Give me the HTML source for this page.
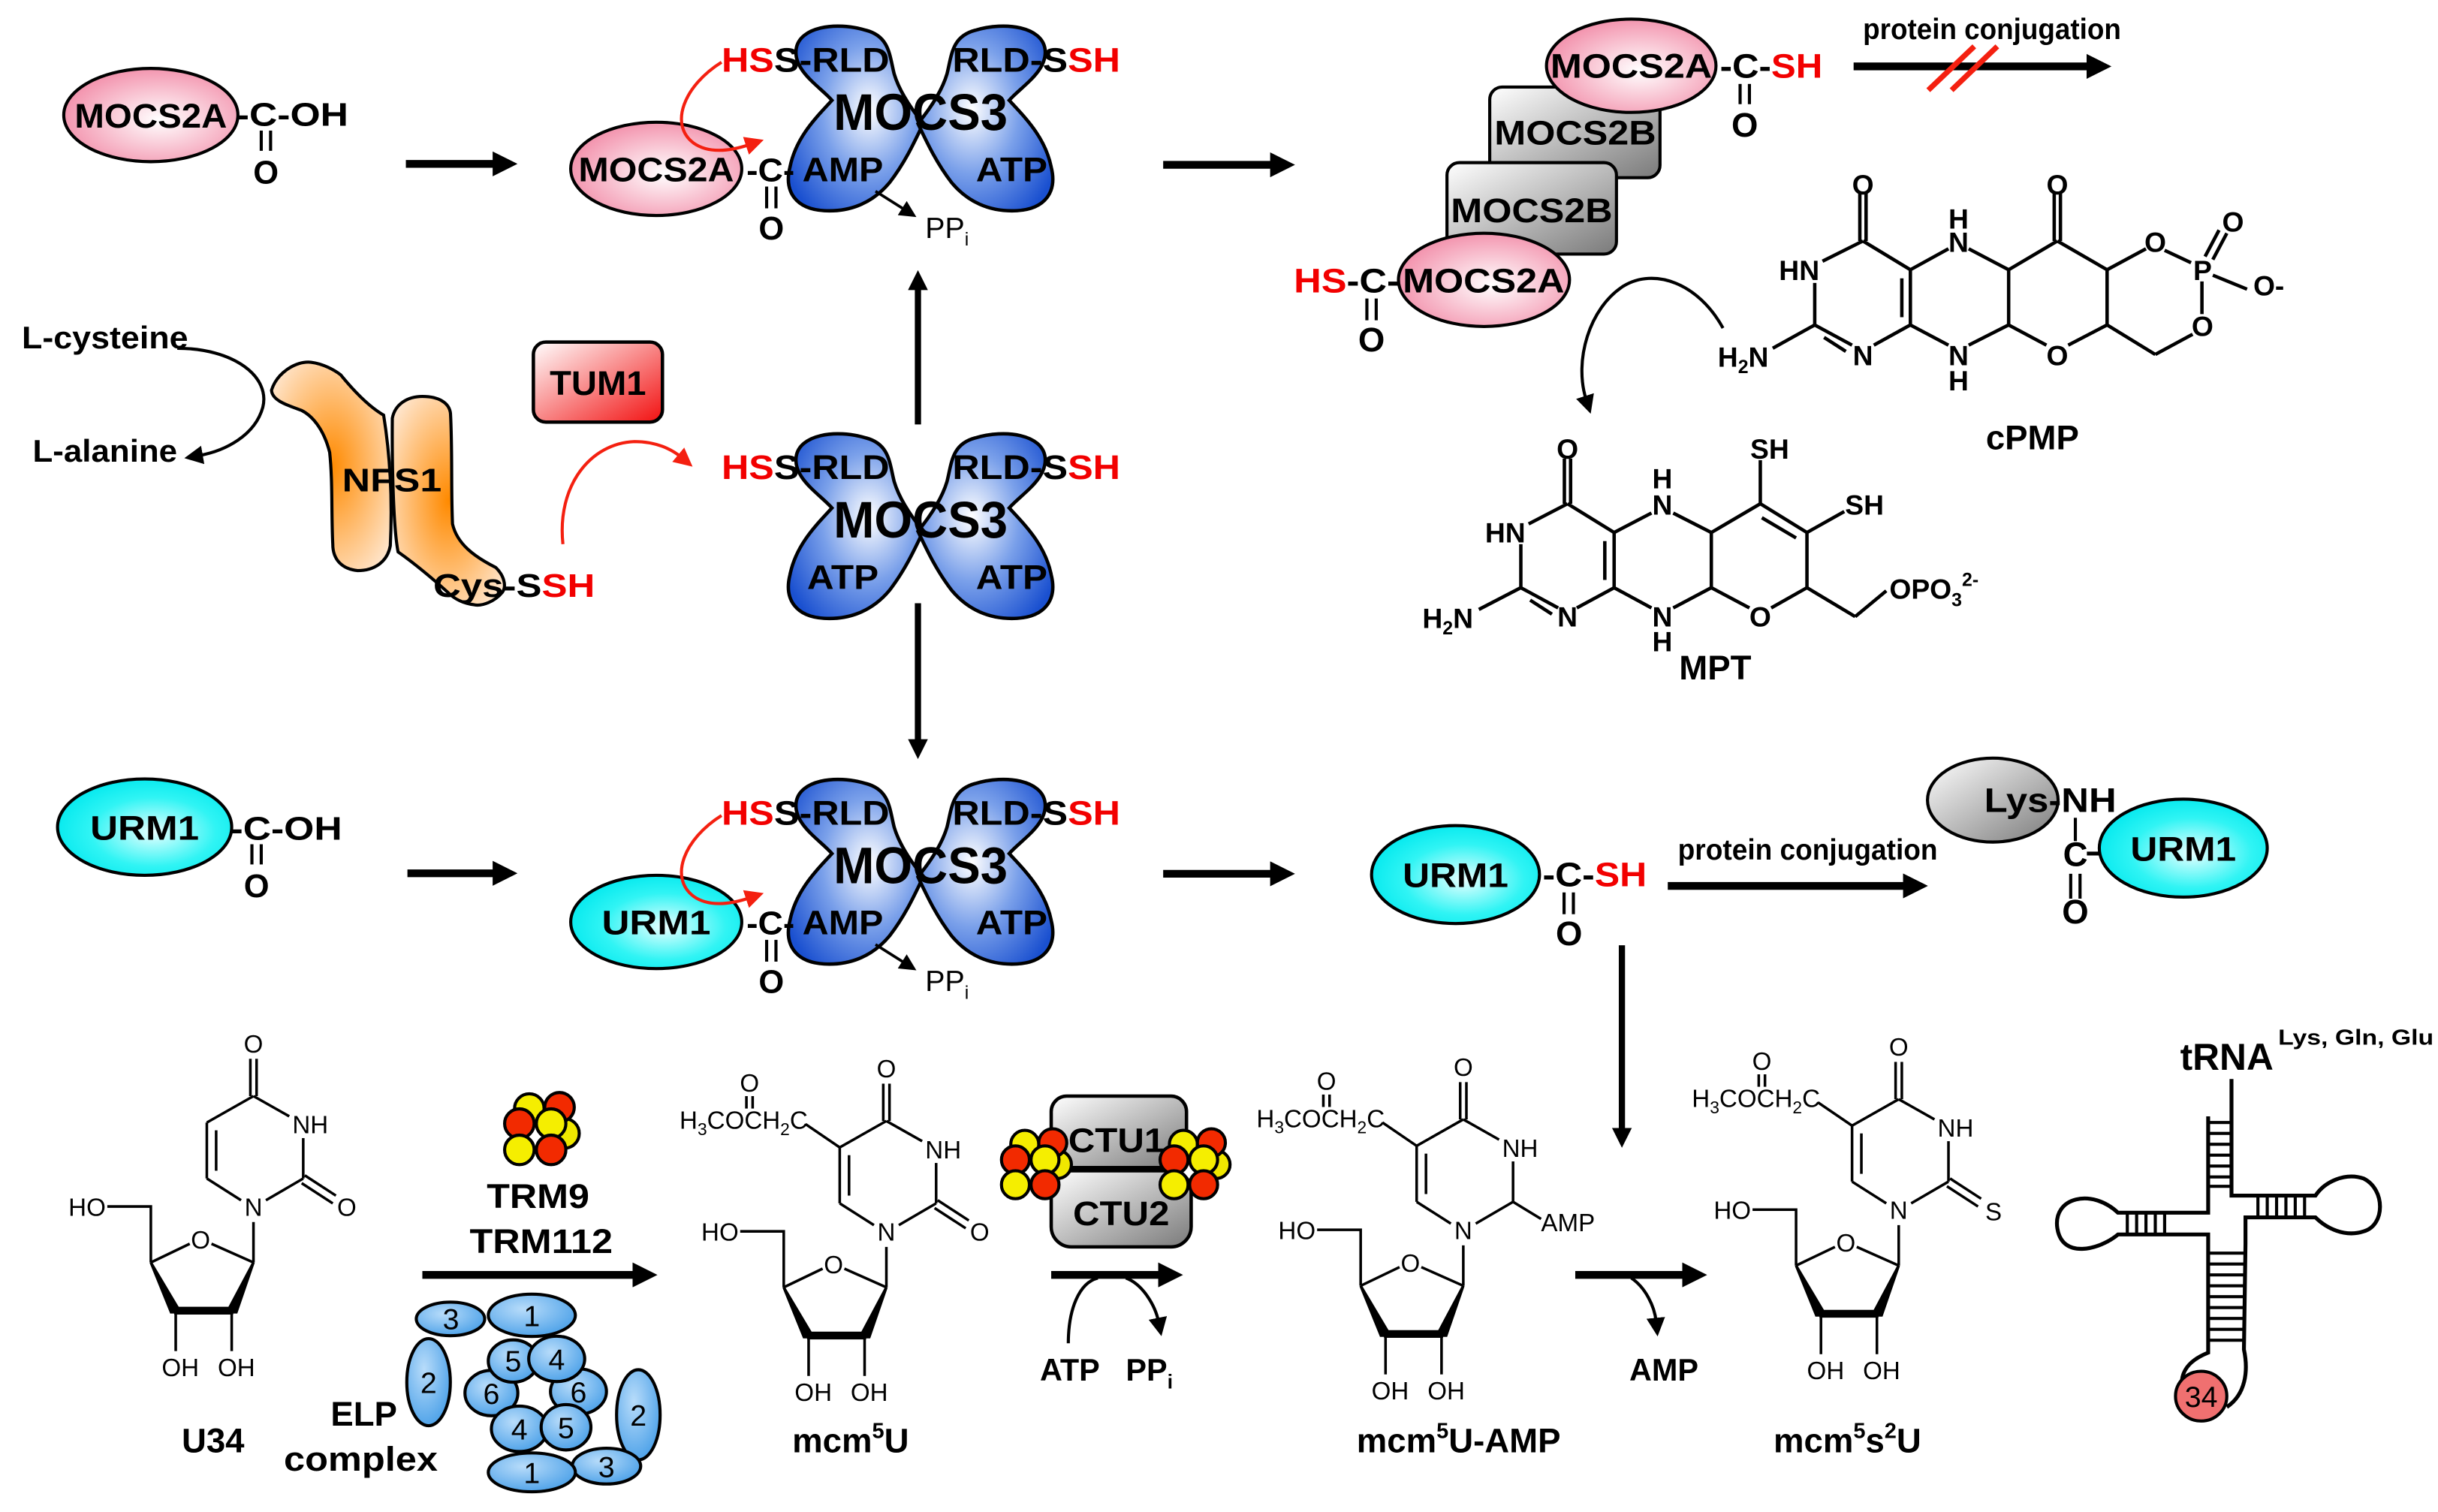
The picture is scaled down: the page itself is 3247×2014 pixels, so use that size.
<!DOCTYPE html>
<html><head><meta charset="utf-8"><style>
html,body{margin:0;padding:0;background:#fff;}
svg{display:block;}
text{font-family:"Liberation Sans",Arial,sans-serif;}
.b{font-weight:bold;}
</style></head><body>
<svg xmlns="http://www.w3.org/2000/svg" width="3247" height="2014" viewBox="0 0 1567.8 972.5" preserveAspectRatio="none">
<defs>
<radialGradient id="gBlue" cx="0.6" cy="0.45" r="0.7"><stop offset="0" stop-color="#ffffff"/><stop offset="0.5" stop-color="#7aa0ea"/><stop offset="1" stop-color="#1a50d0"/></radialGradient>
<radialGradient id="gPink" cx="0.55" cy="0.55" r="0.6"><stop offset="0" stop-color="#ffffff"/><stop offset="1" stop-color="#f28ca8"/></radialGradient>
<radialGradient id="gCyan" cx="0.55" cy="0.55" r="0.6"><stop offset="0" stop-color="#e8ffff"/><stop offset="0.6" stop-color="#30f4f4"/><stop offset="1" stop-color="#00e8ee"/></radialGradient>
<linearGradient id="gGrey" x1="0" y1="0" x2="1" y2="1"><stop offset="0" stop-color="#ffffff"/><stop offset="1" stop-color="#7a7a7a"/></linearGradient>
<linearGradient id="gRed" x1="0" y1="0" x2="1" y2="1"><stop offset="0" stop-color="#ffffff"/><stop offset="1" stop-color="#f21010"/></linearGradient>
<radialGradient id="gOr" cx="0.5" cy="0.5" r="0.7"><stop offset="0" stop-color="#ff8a00"/><stop offset="1" stop-color="#fff0e4"/></radialGradient>
<radialGradient id="gElp" cx="0.4" cy="0.35" r="0.7"><stop offset="0" stop-color="#b8dcfa"/><stop offset="1" stop-color="#4aa0e8"/></radialGradient>
<marker id="ah" viewBox="0 0 10 10" refX="2" refY="5" markerWidth="3.2" markerHeight="3.2" orient="auto"><path d="M0,0 L10,5 L0,10 z" fill="#000"/></marker>
<marker id="ahs" viewBox="0 0 10 10" refX="2" refY="5" markerWidth="6" markerHeight="6" orient="auto"><path d="M0,0 L10,5 L0,10 z" fill="#000"/></marker>
<marker id="ahr" viewBox="0 0 10 10" refX="2" refY="5" markerWidth="6" markerHeight="6" orient="auto"><path d="M0,0 L10,5 L0,10 z" fill="#f42010"/></marker>
<g id="mocs">
<path d="M1.7,0 C-8,-12 -14,-22 -17,-32 C-20,-44 -20,-56 -35,-60 C-55,-66 -78,-62 -80,-48 C-82,-34 -65,-24 -57,-15 C-66,-5 -80,8 -84,28 C-88,44 -80,55 -62,56 C-44,57 -30,50 -20,38 C-10,25 -4,12 1.7,0 Z" fill="url(#gBlue)" stroke="#000" stroke-width="2.2"/>
<path transform="scale(-1,1)" d="M1.7,0 C-8,-12 -14,-22 -17,-32 C-20,-44 -20,-56 -35,-60 C-55,-66 -78,-62 -80,-48 C-82,-34 -65,-24 -57,-15 C-66,-5 -80,8 -84,28 C-88,44 -80,55 -62,56 C-44,57 -30,50 -20,38 C-10,25 -4,12 1.7,0 Z" fill="url(#gBlue)" stroke="#000" stroke-width="2.2"/>
</g>
<g id="nuc" stroke="#000" stroke-width="1.7" fill="none">
<line x1="163" y1="705" x2="186" y2="718"/>
<line x1="195" y1="732" x2="195" y2="758"/>
<line x1="195" y1="758" x2="171" y2="772"/>
<line x1="133" y1="758" x2="155" y2="772"/>
<line x1="133" y1="722" x2="133" y2="758"/>
<line x1="139" y1="727" x2="139" y2="753"/>
<line x1="163" y1="705" x2="133" y2="722"/>
<line x1="161" y1="705" x2="161" y2="681"/>
<line x1="165" y1="705" x2="165" y2="681"/>
<line x1="163" y1="786" x2="163" y2="812"/>
<line x1="163" y1="812" x2="136" y2="800"/>
<line x1="122" y1="800" x2="97" y2="812"/>
<polyline points="69,776 97,776 97,812"/>
<polygon points="97,812 110,844 116,844" fill="#000"/>
<polygon points="163,812 146,844 152,844" fill="#000"/>
<line x1="112" y1="843" x2="150" y2="843" stroke-width="5"/>
<line x1="113" y1="845" x2="113" y2="869"/>
<line x1="149" y1="845" x2="149" y2="869"/>
</g>
</defs>

<!-- ===== TOP ROW ===== -->
<ellipse cx="97" cy="74" rx="56" ry="30" fill="url(#gPink)" stroke="#000" stroke-width="2"/>
<text x="97" y="82" class="b" font-size="22" text-anchor="middle" textLength="98" lengthAdjust="spacingAndGlyphs">MOCS2A</text>
<text x="152" y="81" class="b" font-size="21" textLength="72" lengthAdjust="spacingAndGlyphs">-C-OH</text>
<line x1="168" y1="84" x2="168" y2="97" stroke="#000" stroke-width="2"/><line x1="174" y1="84" x2="174" y2="97" stroke="#000" stroke-width="2"/>
<text x="171" y="118" class="b" font-size="21" text-anchor="middle">O</text>
<line x1="261" y1="105.4" x2="320" y2="105.4" stroke="#000" stroke-width="5" marker-end="url(#ah)"/>

<!-- top MOCS3 -->
<g transform="translate(592,79.5)"><use href="#mocs"/></g>
<ellipse cx="422" cy="108.6" rx="55" ry="30" fill="url(#gPink)" stroke="#000" stroke-width="2"/>
<text x="422" y="116.5" class="b" font-size="22" text-anchor="middle" textLength="100" lengthAdjust="spacingAndGlyphs">MOCS2A</text>
<text x="480" y="116.5" class="b" font-size="21" textLength="31" lengthAdjust="spacingAndGlyphs">-C-</text>
<text x="516" y="116.5" class="b" font-size="22" textLength="52" lengthAdjust="spacingAndGlyphs">AMP</text>
<text x="627.6" y="116.5" class="b" font-size="22" textLength="46" lengthAdjust="spacingAndGlyphs">ATP</text>
<text x="592" y="83.5" class="b" font-size="33" text-anchor="middle" textLength="112" lengthAdjust="spacingAndGlyphs">MOCS3</text>
<text x="464" y="46" class="b" font-size="22" textLength="108" lengthAdjust="spacingAndGlyphs"><tspan fill="#f20000">HS</tspan>S-RLD</text>
<text x="612.4" y="46" class="b" font-size="22" textLength="108" lengthAdjust="spacingAndGlyphs">RLD-S<tspan fill="#f20000">SH</tspan></text>
<line x1="493" y1="120" x2="493" y2="134" stroke="#000" stroke-width="2"/><line x1="499" y1="120" x2="499" y2="134" stroke="#000" stroke-width="2"/>
<text x="496" y="154" class="b" font-size="21" text-anchor="middle">O</text>
<path d="M464,40 C440,55 430,80 446,92 C456,99 470,97 482,93" fill="none" stroke="#f42010" stroke-width="2" marker-end="url(#ahr)"/>
<line x1="563" y1="123" x2="582" y2="135" stroke="#000" stroke-width="1.8" marker-end="url(#ahs)"/>
<text x="595" y="153" font-size="19">PP<tspan font-size="12" dy="5">i</tspan></text>
<line x1="748" y1="106" x2="820" y2="106" stroke="#000" stroke-width="5" marker-end="url(#ah)"/>

<!-- top right -->
<rect x="958" y="56" width="109.5" height="58.3" rx="8" fill="url(#gGrey)" stroke="#000" stroke-width="2"/>
<text x="1013" y="93" class="b" font-size="22" text-anchor="middle" textLength="104" lengthAdjust="spacingAndGlyphs">MOCS2B</text>
<rect x="930.5" y="104.6" width="109" height="58.8" rx="8" fill="url(#gGrey)" stroke="#000" stroke-width="2"/>
<text x="985" y="143" class="b" font-size="22" text-anchor="middle" textLength="104" lengthAdjust="spacingAndGlyphs">MOCS2B</text>
<ellipse cx="1049" cy="42.3" rx="54.5" ry="30" fill="url(#gPink)" stroke="#000" stroke-width="2"/>
<text x="1049" y="50" class="b" font-size="22" text-anchor="middle" textLength="104" lengthAdjust="spacingAndGlyphs">MOCS2A</text>
<text x="1106" y="50" class="b" font-size="22" textLength="66" lengthAdjust="spacingAndGlyphs">-C-<tspan fill="#f20000">SH</tspan></text>
<line x1="1119" y1="54" x2="1119" y2="67" stroke="#000" stroke-width="2"/><line x1="1125" y1="54" x2="1125" y2="67" stroke="#000" stroke-width="2"/>
<text x="1122" y="88" class="b" font-size="22" text-anchor="middle">O</text>
<ellipse cx="954.3" cy="180" rx="55" ry="30" fill="url(#gPink)" stroke="#000" stroke-width="2"/>
<text x="954" y="188" class="b" font-size="22" text-anchor="middle" textLength="104" lengthAdjust="spacingAndGlyphs">MOCS2A</text>
<text x="832" y="188" class="b" font-size="22" textLength="68" lengthAdjust="spacingAndGlyphs"><tspan fill="#f20000">HS</tspan>-C-</text>
<line x1="879" y1="192" x2="879" y2="206" stroke="#000" stroke-width="2"/><line x1="885" y1="192" x2="885" y2="206" stroke="#000" stroke-width="2"/>
<text x="882" y="226" class="b" font-size="22" text-anchor="middle">O</text>
<text x="1198" y="25" class="b" font-size="19" textLength="166" lengthAdjust="spacingAndGlyphs">protein conjugation</text>
<line x1="1192" y1="42.7" x2="1345" y2="42.7" stroke="#000" stroke-width="5" marker-end="url(#ah)"/>
<line x1="1240" y1="58" x2="1269.6" y2="29.8" stroke="#f42010" stroke-width="3.5"/>
<line x1="1255" y1="58" x2="1284.4" y2="29.8" stroke="#f42010" stroke-width="3.5"/>

<!-- cPMP -->
<g stroke="#000" stroke-width="2.2" fill="none">
<line x1="1196" y1="124" x2="1196" y2="155"/><line x1="1200" y1="124" x2="1200" y2="155"/>
<line x1="1198" y1="155" x2="1172" y2="168"/>
<line x1="1167" y1="182" x2="1167" y2="209"/>
<line x1="1167" y1="209" x2="1140" y2="224"/>
<line x1="1167" y1="209" x2="1191" y2="222"/><line x1="1173" y1="217" x2="1187" y2="226"/>
<line x1="1205" y1="222" x2="1228.5" y2="209"/>
<line x1="1228.5" y1="173.5" x2="1228.5" y2="209"/><line x1="1223" y1="179" x2="1223" y2="204"/>
<line x1="1198" y1="155" x2="1228.5" y2="173.5"/>
<line x1="1228.5" y1="173.5" x2="1253" y2="160"/>
<line x1="1266" y1="160" x2="1291.7" y2="173.5"/>
<line x1="1228.5" y1="209" x2="1253" y2="222"/>
<line x1="1266" y1="222" x2="1291.7" y2="209"/>
<line x1="1291.7" y1="173.5" x2="1291.7" y2="209"/>
<line x1="1291.7" y1="173.5" x2="1323" y2="155"/>
<line x1="1321" y1="124" x2="1321" y2="155"/><line x1="1325" y1="124" x2="1325" y2="155"/>
<line x1="1323" y1="155" x2="1355" y2="173.5"/>
<line x1="1291.7" y1="209" x2="1316" y2="222"/>
<line x1="1330" y1="222" x2="1355" y2="209"/>
<line x1="1355" y1="173.5" x2="1355" y2="209"/>
<line x1="1355" y1="173.5" x2="1380" y2="160"/>
<line x1="1392" y1="161" x2="1409" y2="169"/>
<line x1="1416" y1="181" x2="1416" y2="202"/>
<line x1="1410" y1="215" x2="1386" y2="228"/>
<line x1="1386" y1="228" x2="1355" y2="209"/>
<line x1="1418" y1="165" x2="1427" y2="148"/><line x1="1423" y1="167" x2="1432" y2="150"/>
<line x1="1423" y1="177" x2="1445" y2="186"/>
</g>
<g class="b" font-size="18" text-anchor="middle">
<text x="1198" y="125" class="b">O</text>
<text x="1157" y="180" class="b">HN</text>
<text x="1121" y="236" class="b">H<tspan font-size="12" dy="4">2</tspan><tspan dy="-4">N</tspan></text>
<text x="1198" y="235" class="b">N</text>
<text x="1259.5" y="147" class="b">H</text>
<text x="1259.5" y="162" class="b">N</text>
<text x="1259.5" y="235" class="b">N</text>
<text x="1259.5" y="251" class="b">H</text>
<text x="1323" y="125" class="b">O</text>
<text x="1323" y="235" class="b">O</text>
<text x="1386" y="162" class="b">O</text>
<text x="1416.4" y="180" class="b">P</text>
<text x="1416.4" y="216" class="b">O</text>
<text x="1436" y="149" class="b">O</text>
<text x="1459" y="190" class="b">O-</text>
</g>
<text x="1307" y="289" class="b" font-size="22" text-anchor="middle">cPMP</text>
<path d="M1108,211 C1092,182 1064,172 1044,184 C1022,198 1012,232 1020,257" fill="none" stroke="#000" stroke-width="2" marker-end="url(#ahs)"/>

<!-- MPT -->
<g stroke="#000" stroke-width="2.2" fill="none">
<line x1="1006" y1="295" x2="1006" y2="324"/><line x1="1010" y1="295" x2="1010" y2="324"/>
<line x1="1008" y1="324" x2="983" y2="337"/>
<line x1="978" y1="350" x2="978" y2="378"/>
<line x1="978" y1="378" x2="951" y2="392"/>
<line x1="978" y1="378" x2="1002" y2="391"/><line x1="984" y1="386" x2="998" y2="395"/>
<line x1="1014" y1="391" x2="1038" y2="378"/>
<line x1="1038" y1="342.5" x2="1038" y2="378"/><line x1="1032" y1="348" x2="1032" y2="373"/>
<line x1="1008" y1="324" x2="1038" y2="342.5"/>
<line x1="1038" y1="342.5" x2="1062" y2="330"/>
<line x1="1076" y1="330" x2="1100.5" y2="342.5"/>
<line x1="1038" y1="378" x2="1062" y2="391"/>
<line x1="1076" y1="391" x2="1100.5" y2="378"/>
<line x1="1100.5" y1="342.5" x2="1100.5" y2="378"/>
<line x1="1100.5" y1="342.5" x2="1132" y2="324"/>
<line x1="1132" y1="324" x2="1132" y2="296"/>
<line x1="1132" y1="324" x2="1162" y2="342.5"/><line x1="1133" y1="333" x2="1155" y2="346"/>
<line x1="1162" y1="342.5" x2="1186" y2="329"/>
<line x1="1162" y1="342.5" x2="1162" y2="378"/>
<line x1="1100.5" y1="378" x2="1125" y2="391"/>
<line x1="1139" y1="391" x2="1162" y2="378"/>
<line x1="1162" y1="378" x2="1193" y2="396.6"/>
<line x1="1193" y1="396.6" x2="1213" y2="380"/>
</g>
<g font-size="18" text-anchor="middle">
<text x="1008" y="295" class="b">O</text>
<text x="968" y="349" class="b">HN</text>
<text x="931" y="404" class="b">H<tspan font-size="12" dy="4">2</tspan><tspan dy="-4">N</tspan></text>
<text x="1008" y="403" class="b">N</text>
<text x="1069" y="314" class="b">H</text>
<text x="1069" y="331" class="b">N</text>
<text x="1069" y="403" class="b">N</text>
<text x="1069" y="419" class="b">H</text>
<text x="1138" y="295" class="b">SH</text>
<text x="1199" y="331" class="b">SH</text>
<text x="1132" y="403" class="b">O</text>
</g>
<text x="1215" y="385" class="b" font-size="18">OPO<tspan font-size="12" dy="5">3</tspan><tspan font-size="12" dy="-13">2-</tspan></text>
<text x="1103" y="437" class="b" font-size="22" text-anchor="middle">MPT</text>

<!-- ===== MIDDLE ===== -->
<text x="14" y="224" class="b" font-size="20" textLength="107" lengthAdjust="spacingAndGlyphs">L-cysteine</text>
<text x="21" y="297" class="b" font-size="20" textLength="93" lengthAdjust="spacingAndGlyphs">L-alanine</text>
<path d="M114,224 C150,224 174,242 169,262 C164,280 145,290 128,293" fill="none" stroke="#000" stroke-width="2" marker-end="url(#ahs)"/>
<path d="M174.6,251 C178,240 190,232 200,233 C208,234 215,238 219,241 C228,252 238,262 246.7,267 C252,300 252,330 251,351 C249,362 240,367 230,367 C220,366 214,360 214,350 C213,330 214,310 212,291 C208,275 200,267 194,264 C186,261 175,258 174.6,251 Z" fill="url(#gOr)" stroke="#000" stroke-width="2"/>
<path d="M252.3,269 C254,260 262,255 271.6,255 C282,255 289,259 289.7,266 C291,290 290,315 291,337 C294,350 305,358 318.8,365 C324,370 326,377 323,381 C318,387 310,390 305,389 C297,388 292,385 288,381 C278,372 266,362 256,355 C253,340 252,300 252.3,269 Z" fill="url(#gOr)" stroke="#000" stroke-width="2"/>
<text x="252" y="316" class="b" font-size="21" text-anchor="middle" textLength="64" lengthAdjust="spacingAndGlyphs">NFS1</text>
<text x="278.6" y="384" class="b" font-size="21" textLength="104" lengthAdjust="spacingAndGlyphs">Cys-S<tspan fill="#f20000">SH</tspan></text>
<rect x="343" y="220" width="83" height="51.5" rx="8" fill="url(#gRed)" stroke="#000" stroke-width="2.2"/>
<text x="384.5" y="254" class="b" font-size="22" text-anchor="middle" textLength="62" lengthAdjust="spacingAndGlyphs">TUM1</text>
<path d="M362,350 C358,312 380,285 408,284 C422,284 432,289 438,294" fill="none" stroke="#f42010" stroke-width="2" marker-end="url(#ahr)"/>

<g transform="translate(592,341.7)"><use href="#mocs"/></g>
<text x="592" y="345.7" class="b" font-size="33" text-anchor="middle" textLength="112" lengthAdjust="spacingAndGlyphs">MOCS3</text>
<text x="464" y="308" class="b" font-size="22" textLength="108" lengthAdjust="spacingAndGlyphs"><tspan fill="#f20000">HS</tspan>S-RLD</text>
<text x="612.4" y="308" class="b" font-size="22" textLength="108" lengthAdjust="spacingAndGlyphs">RLD-S<tspan fill="#f20000">SH</tspan></text>
<text x="519" y="378.7" class="b" font-size="22" textLength="46" lengthAdjust="spacingAndGlyphs">ATP</text>
<text x="627.6" y="378.7" class="b" font-size="22" textLength="46" lengthAdjust="spacingAndGlyphs">ATP</text>
<line x1="590.3" y1="273" x2="590.3" y2="184" stroke="#000" stroke-width="4" marker-end="url(#ah)"/>
<line x1="590.3" y1="388" x2="590.3" y2="478" stroke="#000" stroke-width="4" marker-end="url(#ah)"/>

<!-- ===== URM1 ROW ===== -->
<ellipse cx="93" cy="532" rx="56" ry="31" fill="url(#gCyan)" stroke="#000" stroke-width="2"/>
<text x="93" y="540" class="b" font-size="22" text-anchor="middle" textLength="70" lengthAdjust="spacingAndGlyphs">URM1</text>
<text x="148" y="540" class="b" font-size="21" textLength="72" lengthAdjust="spacingAndGlyphs">-C-OH</text>
<line x1="162" y1="543" x2="162" y2="556" stroke="#000" stroke-width="2"/><line x1="168" y1="543" x2="168" y2="556" stroke="#000" stroke-width="2"/>
<text x="165" y="577" class="b" font-size="21" text-anchor="middle">O</text>
<line x1="262" y1="561.7" x2="320" y2="561.7" stroke="#000" stroke-width="5" marker-end="url(#ah)"/>

<g transform="translate(592,564)"><use href="#mocs"/></g>
<ellipse cx="422" cy="593" rx="55" ry="30" fill="url(#gCyan)" stroke="#000" stroke-width="2"/>
<text x="422" y="601" class="b" font-size="22" text-anchor="middle" textLength="70" lengthAdjust="spacingAndGlyphs">URM1</text>
<text x="480" y="601" class="b" font-size="21" textLength="31" lengthAdjust="spacingAndGlyphs">-C-</text>
<text x="516" y="601" class="b" font-size="22" textLength="52" lengthAdjust="spacingAndGlyphs">AMP</text>
<text x="627.6" y="601" class="b" font-size="22" textLength="46" lengthAdjust="spacingAndGlyphs">ATP</text>
<text x="592" y="568" class="b" font-size="33" text-anchor="middle" textLength="112" lengthAdjust="spacingAndGlyphs">MOCS3</text>
<text x="464" y="530.5" class="b" font-size="22" textLength="108" lengthAdjust="spacingAndGlyphs"><tspan fill="#f20000">HS</tspan>S-RLD</text>
<text x="612.4" y="530.5" class="b" font-size="22" textLength="108" lengthAdjust="spacingAndGlyphs">RLD-S<tspan fill="#f20000">SH</tspan></text>
<line x1="493" y1="604.5" x2="493" y2="618.5" stroke="#000" stroke-width="2"/><line x1="499" y1="604.5" x2="499" y2="618.5" stroke="#000" stroke-width="2"/>
<text x="496" y="638.5" class="b" font-size="21" text-anchor="middle">O</text>
<path d="M464,524.5 C440,539.5 430,564.5 446,576.5 C456,583.5 470,581.5 482,577.5" fill="none" stroke="#f42010" stroke-width="2" marker-end="url(#ahr)"/>
<line x1="563" y1="607.5" x2="582" y2="619.5" stroke="#000" stroke-width="1.8" marker-end="url(#ahs)"/>
<text x="595" y="637.5" font-size="19">PP<tspan font-size="12" dy="5">i</tspan></text>
<line x1="748" y1="562" x2="820" y2="562" stroke="#000" stroke-width="5" marker-end="url(#ah)"/>

<ellipse cx="936" cy="562.5" rx="54" ry="31.5" fill="url(#gCyan)" stroke="#000" stroke-width="2"/>
<text x="936" y="570.5" class="b" font-size="22" text-anchor="middle" textLength="68" lengthAdjust="spacingAndGlyphs">URM1</text>
<text x="992" y="570" class="b" font-size="22" textLength="67" lengthAdjust="spacingAndGlyphs">-C-<tspan fill="#f20000">SH</tspan></text>
<line x1="1005.8" y1="574" x2="1005.8" y2="588" stroke="#000" stroke-width="2"/><line x1="1011.8" y1="574" x2="1011.8" y2="588" stroke="#000" stroke-width="2"/>
<text x="1009" y="608" class="b" font-size="22" text-anchor="middle">O</text>
<text x="1079" y="553" class="b" font-size="19" textLength="167" lengthAdjust="spacingAndGlyphs">protein conjugation</text>
<line x1="1072.5" y1="569.8" x2="1227" y2="569.8" stroke="#000" stroke-width="5" marker-end="url(#ah)"/>
<ellipse cx="1281.5" cy="514.6" rx="42" ry="27" fill="url(#gGrey)" stroke="#000" stroke-width="2"/>
<ellipse cx="1404" cy="545.5" rx="54" ry="31.5" fill="url(#gCyan)" stroke="#000" stroke-width="2"/>
<text x="1404" y="553.5" class="b" font-size="22" text-anchor="middle" textLength="68" lengthAdjust="spacingAndGlyphs">URM1</text>
<text x="1276" y="522.3" class="b" font-size="22" textLength="85" lengthAdjust="spacingAndGlyphs">Lys-NH</text>
<line x1="1334.6" y1="526" x2="1334.6" y2="541" stroke="#000" stroke-width="2"/>
<text x="1334.6" y="557" class="b" font-size="22" text-anchor="middle">C</text>
<line x1="1342" y1="549" x2="1350" y2="549" stroke="#000" stroke-width="2.5"/>
<line x1="1331.6" y1="562" x2="1331.6" y2="578" stroke="#000" stroke-width="2"/><line x1="1337.6" y1="562" x2="1337.6" y2="578" stroke="#000" stroke-width="2"/>
<text x="1334.6" y="594" class="b" font-size="22" text-anchor="middle">O</text>
<line x1="1043" y1="608" x2="1043" y2="728" stroke="#000" stroke-width="4" marker-end="url(#ah)"/>

<!-- ===== BOTTOM ===== -->
<!-- U34 -->
<use href="#nuc"/>
<line x1="196" y1="756" x2="216" y2="769" stroke="#000" stroke-width="1.7"/><line x1="194" y1="761" x2="214" y2="774" stroke="#000" stroke-width="1.7"/>
<g font-size="16">
<text x="163" y="677" text-anchor="middle">O</text><text x="188" y="729">NH</text><text x="163" y="782" text-anchor="middle">N</text>
<text x="223" y="782" text-anchor="middle">O</text><text x="129" y="803" text-anchor="middle">O</text>
<text x="68" y="782" text-anchor="end">HO</text><text x="104" y="885">OH</text><text x="140" y="885">OH</text>
</g>
<text x="137" y="934" class="b" font-size="22" text-anchor="middle">U34</text>

<!-- mcm5U -->
<g transform="translate(407,16)">
<use href="#nuc"/>
<line x1="196" y1="756" x2="216" y2="769" stroke="#000" stroke-width="1.7"/><line x1="194" y1="761" x2="214" y2="774" stroke="#000" stroke-width="1.7"/>
<line x1="133" y1="722" x2="111" y2="707" stroke="#000" stroke-width="1.7"/>
<line x1="73" y1="689" x2="73" y2="697" stroke="#000" stroke-width="1.7"/><line x1="77" y1="689" x2="77" y2="697" stroke="#000" stroke-width="1.7"/>
<g font-size="16">
<text x="163" y="677" text-anchor="middle">O</text><text x="188" y="729">NH</text><text x="163" y="782" text-anchor="middle">N</text>
<text x="223" y="782" text-anchor="middle">O</text><text x="129" y="803" text-anchor="middle">O</text>
<text x="68" y="782" text-anchor="end">HO</text><text x="104" y="885">OH</text><text x="140" y="885">OH</text>
<text x="75" y="686" text-anchor="middle">O</text>
<text x="30" y="710">H<tspan font-size="11" dy="4">3</tspan><tspan dy="-4">COCH</tspan><tspan font-size="11" dy="4">2</tspan><tspan dy="-4">C</tspan></text>
</g>
</g>
<text x="547" y="934" class="b" font-size="22" text-anchor="middle">mcm<tspan font-size="14" dy="-9">5</tspan><tspan dy="9">U</tspan></text>

<!-- mcm5U-AMP -->
<g transform="translate(778,15)">
<use href="#nuc"/>
<line x1="195" y1="758" x2="213" y2="769" stroke="#000" stroke-width="1.7"/>
<line x1="133" y1="722" x2="111" y2="707" stroke="#000" stroke-width="1.7"/>
<line x1="73" y1="689" x2="73" y2="697" stroke="#000" stroke-width="1.7"/><line x1="77" y1="689" x2="77" y2="697" stroke="#000" stroke-width="1.7"/>
<g font-size="16">
<text x="163" y="677" text-anchor="middle">O</text><text x="188" y="729">NH</text><text x="163" y="782" text-anchor="middle">N</text>
<text x="213" y="777">AMP</text><text x="129" y="803" text-anchor="middle">O</text>
<text x="68" y="782" text-anchor="end">HO</text><text x="104" y="885">OH</text><text x="140" y="885">OH</text>
<text x="75" y="686" text-anchor="middle">O</text>
<text x="30" y="710">H<tspan font-size="11" dy="4">3</tspan><tspan dy="-4">COCH</tspan><tspan font-size="11" dy="4">2</tspan><tspan dy="-4">C</tspan></text>
</g>
</g>
<text x="938" y="934" class="b" font-size="22" text-anchor="middle">mcm<tspan font-size="14" dy="-9">5</tspan><tspan dy="9">U-AMP</tspan></text>

<!-- mcm5s2U -->
<g transform="translate(1058,2)">
<use href="#nuc"/>
<line x1="196" y1="756" x2="216" y2="769" stroke="#000" stroke-width="1.7"/><line x1="194" y1="761" x2="214" y2="774" stroke="#000" stroke-width="1.7"/>
<line x1="133" y1="722" x2="111" y2="707" stroke="#000" stroke-width="1.7"/>
<line x1="73" y1="689" x2="73" y2="697" stroke="#000" stroke-width="1.7"/><line x1="77" y1="689" x2="77" y2="697" stroke="#000" stroke-width="1.7"/>
<g font-size="16">
<text x="163" y="677" text-anchor="middle">O</text><text x="188" y="729">NH</text><text x="163" y="782" text-anchor="middle">N</text>
<text x="224" y="783" text-anchor="middle">S</text><text x="129" y="803" text-anchor="middle">O</text>
<text x="68" y="782" text-anchor="end">HO</text><text x="104" y="885">OH</text><text x="140" y="885">OH</text>
<text x="75" y="686" text-anchor="middle">O</text>
<text x="30" y="710">H<tspan font-size="11" dy="4">3</tspan><tspan dy="-4">COCH</tspan><tspan font-size="11" dy="4">2</tspan><tspan dy="-4">C</tspan></text>
</g>
</g>
<text x="1188" y="934" class="b" font-size="22" text-anchor="middle">mcm<tspan font-size="14" dy="-9">5</tspan><tspan dy="9">s</tspan><tspan font-size="14" dy="-9">2</tspan><tspan dy="9">U</tspan></text>

<!-- TRM9 cluster -->
<g stroke="#000" stroke-width="2">
<circle cx="363" cy="729" r="9.5" fill="#f0e800"/>
<circle cx="340.4" cy="713" r="9.5" fill="#f5ee00"/>
<circle cx="359.8" cy="712.2" r="9.5" fill="#f22a00"/>
<circle cx="334" cy="722.7" r="9.5" fill="#f22a00"/>
<circle cx="354.4" cy="722.7" r="9.5" fill="#f5ee00"/>
<circle cx="334" cy="739.6" r="9.5" fill="#f5ee00"/>
<circle cx="354.4" cy="739.6" r="9.5" fill="#f22a00"/>
</g>
<text x="346" y="777" class="b" font-size="22" text-anchor="middle" textLength="66" lengthAdjust="spacingAndGlyphs">TRM9</text>
<text x="348" y="806" class="b" font-size="22" text-anchor="middle" textLength="92" lengthAdjust="spacingAndGlyphs">TRM112</text>
<line x1="271.6" y1="820" x2="410" y2="820" stroke="#000" stroke-width="5" marker-end="url(#ah)"/>

<!-- ELP -->
<g stroke="#000" stroke-width="2" fill="url(#gElp)">
<ellipse cx="275.6" cy="889" rx="14" ry="28"/>
<ellipse cx="410.5" cy="910" rx="14" ry="29"/>
<ellipse cx="289.7" cy="848.3" rx="22" ry="10.8"/>
<ellipse cx="342" cy="846" rx="28" ry="13.6"/>
<ellipse cx="316" cy="896" rx="17" ry="14.6"/>
<ellipse cx="372" cy="895" rx="18" ry="14.6"/>
<ellipse cx="330" cy="875.4" rx="16" ry="13.6"/>
<ellipse cx="358" cy="874" rx="18" ry="14.6"/>
<ellipse cx="334" cy="919" rx="18" ry="14.6"/>
<ellipse cx="364" cy="918" rx="16" ry="14.6"/>
<ellipse cx="390" cy="943" rx="22" ry="11.5"/>
<ellipse cx="342" cy="947" rx="28" ry="12.5"/>
</g>
<g font-size="19" text-anchor="middle">
<text x="275.6" y="896">2</text><text x="410.5" y="917">2</text><text x="290" y="855">3</text><text x="342" y="853">1</text>
<text x="316" y="903">6</text><text x="372" y="902">6</text><text x="330" y="882">5</text><text x="358" y="881">4</text>
<text x="334" y="926">4</text><text x="364" y="925">5</text><text x="390" y="950">3</text><text x="342" y="954">1</text>
</g>
<text x="234" y="917" class="b" font-size="22" text-anchor="middle">ELP</text>
<text x="232" y="946" class="b" font-size="22" text-anchor="middle" textLength="99" lengthAdjust="spacingAndGlyphs">complex</text>

<!-- CTU -->
<rect x="676" y="705" width="87" height="46" rx="10" fill="url(#gGrey)" stroke="#000" stroke-width="2.2"/>
<rect x="676" y="753" width="90" height="49" rx="13" fill="url(#gGrey)" stroke="#000" stroke-width="2.2"/>
<text x="718" y="741" class="b" font-size="22" text-anchor="middle" textLength="62" lengthAdjust="spacingAndGlyphs">CTU1</text>
<text x="721" y="788" class="b" font-size="22" text-anchor="middle" textLength="62" lengthAdjust="spacingAndGlyphs">CTU2</text>
<g stroke="#000" stroke-width="2">
<g transform="translate(-12,4)">
<circle cx="692" cy="745" r="9" fill="#f0e800"/>
<circle cx="671" cy="732" r="9" fill="#f5ee00"/>
<circle cx="689" cy="731" r="9" fill="#f22a00"/>
<circle cx="665" cy="742" r="9" fill="#f22a00"/>
<circle cx="684" cy="742" r="9" fill="#f5ee00"/>
<circle cx="665" cy="758" r="9" fill="#f5ee00"/>
<circle cx="684" cy="758" r="9" fill="#f22a00"/>
</g>
<g transform="translate(90,4)">
<circle cx="692" cy="745" r="9" fill="#f0e800"/>
<circle cx="671" cy="732" r="9" fill="#f5ee00"/>
<circle cx="689" cy="731" r="9" fill="#f22a00"/>
<circle cx="665" cy="742" r="9" fill="#f22a00"/>
<circle cx="684" cy="742" r="9" fill="#f5ee00"/>
<circle cx="665" cy="758" r="9" fill="#f5ee00"/>
<circle cx="684" cy="758" r="9" fill="#f22a00"/>
</g>
</g>
<line x1="676" y1="820" x2="748" y2="820" stroke="#000" stroke-width="5" marker-end="url(#ah)"/>
<path d="M687,864 C687,842 694,825 706,822" fill="none" stroke="#000" stroke-width="2"/>
<path d="M724,822 C735,826 743,840 745,850" fill="none" stroke="#000" stroke-width="2" marker-end="url(#ahs)"/>
<text x="688" y="888" class="b" font-size="20" text-anchor="middle">ATP</text>
<text x="724" y="888" class="b" font-size="20">PP<tspan font-size="13" dy="5">i</tspan></text>
<line x1="1013" y1="820" x2="1085" y2="820" stroke="#000" stroke-width="5" marker-end="url(#ah)"/>
<path d="M1049,822 C1058,828 1064,840 1065,850" fill="none" stroke="#000" stroke-width="2" marker-end="url(#ahs)"/>
<text x="1070" y="888" class="b" font-size="20" text-anchor="middle">AMP</text>

<!-- tRNA -->
<g stroke="#000" stroke-width="2.5" fill="none">
<path d="M1435,694 L1435,769 L1489,769 C1495,760 1508,754 1520,758 C1534,765 1534,788 1520,792 C1508,796 1496,790 1489,783 L1444,783 L1444,800 L1443,868 C1446,882 1444,897 1432,905"/>
<path d="M1403,890 C1403,880 1410,874 1420,870 L1420,800 L1420,794 L1362,794 C1350,804 1326,810 1323,790 C1320,770 1345,764 1362,780 L1420,780 L1420,718"/>
<path d="M1420,722 H1435 M1420,729 H1435 M1420,736 H1435 M1420,743 H1435 M1420,750 H1435 M1420,757 H1435 M1420,763 H1435" stroke-width="2"/>
<path d="M1452,769 V783 M1458,769 V783 M1464,769 V783 M1470,769 V783 M1476,769 V783 M1482,769 V783" stroke-width="2"/>
<path d="M1368,780 V794 M1374,780 V794 M1380,780 V794 M1386,780 V794 M1392,780 V794" stroke-width="2"/>
<path d="M1420,806 H1443 M1420,813 H1443 M1420,820 H1443 M1420,827 H1443 M1420,834 H1443 M1420,841 H1443 M1420,848 H1443 M1420,855 H1443 M1420,862 H1443" stroke-width="2"/>
</g>
<ellipse cx="1415.5" cy="898" rx="16.5" ry="16" fill="#f07070" stroke="#000" stroke-width="2"/>
<text x="1415.5" y="905" font-size="19" text-anchor="middle">34</text>
<text x="1402" y="688" class="b" font-size="24" textLength="60" lengthAdjust="spacingAndGlyphs">tRNA</text>
<text x="1465" y="672" class="b" font-size="14" textLength="100" lengthAdjust="spacingAndGlyphs">Lys, Gln, Glu</text>
</svg>
</body></html>
